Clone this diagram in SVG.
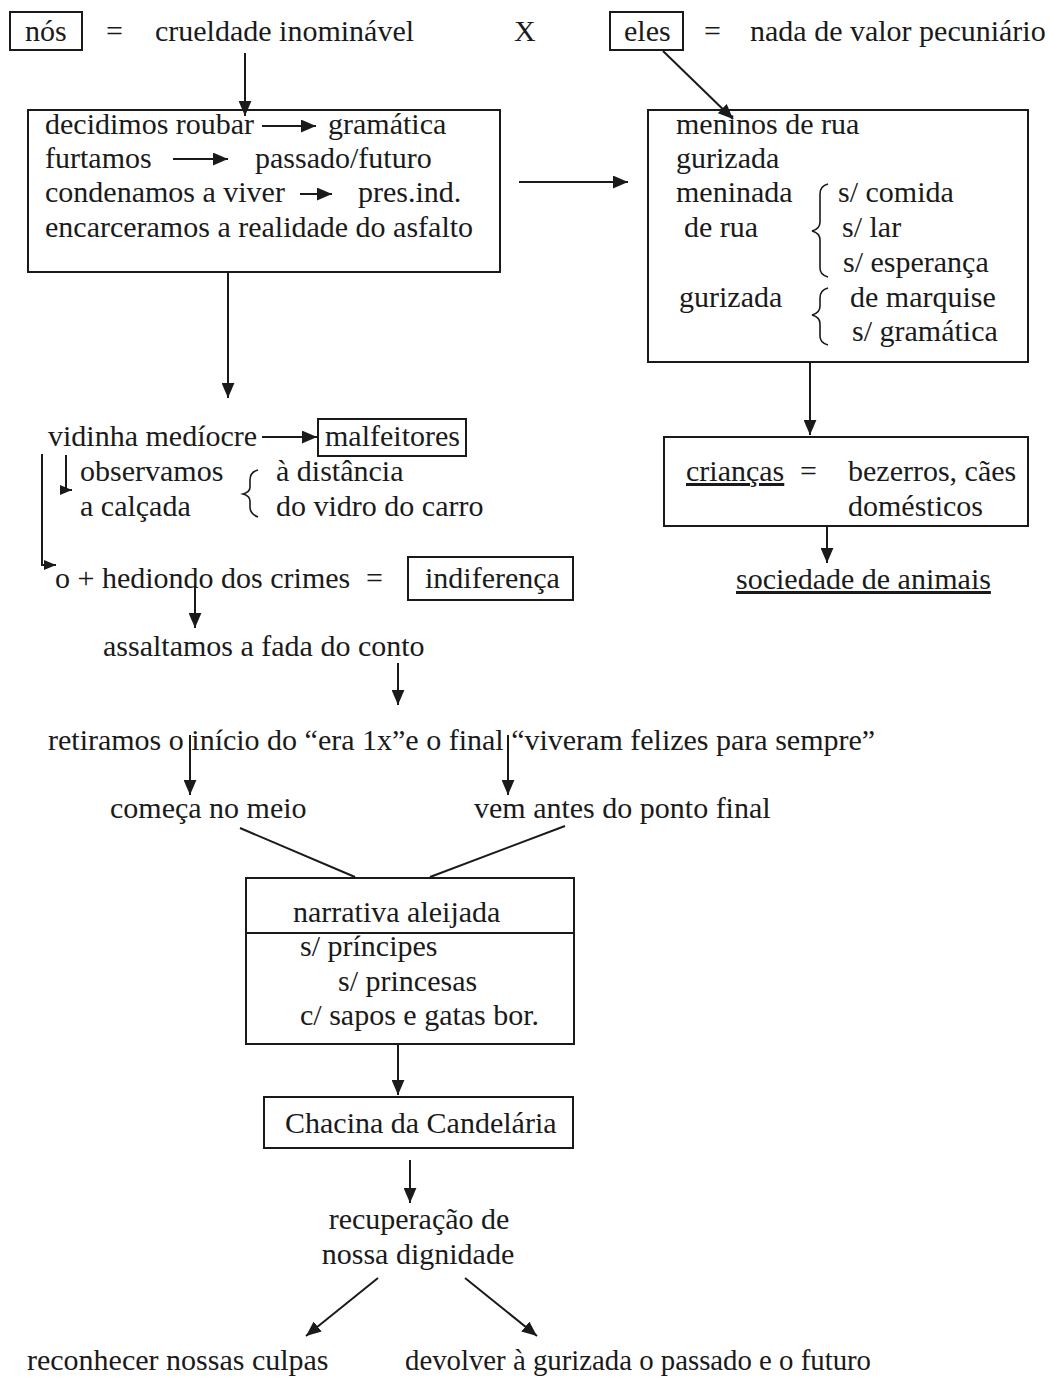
<svg xmlns="http://www.w3.org/2000/svg" width="1050" height="1379" viewBox="0 0 1050 1379">
<style>
text{font-family:"Liberation Serif","Times New Roman",serif;font-size:30px;fill:#1a1a1a}
.box{fill:none;stroke:#1a1a1a;stroke-width:2}
.ln{fill:none;stroke:#1a1a1a;stroke-width:2}
.br{fill:none;stroke:#1a1a1a;stroke-width:1.6}
.u{text-decoration:underline}
</style>
<defs>
<marker id="ah" viewBox="0 0 14 12" refX="14" refY="6" markerWidth="15" markerHeight="13" markerUnits="userSpaceOnUse" orient="auto"><path d="M0,0 L14,6 L0,12 z" fill="#1a1a1a"/></marker>
<marker id="ahs" viewBox="0 0 12 10" refX="12" refY="5" markerWidth="12" markerHeight="10" markerUnits="userSpaceOnUse" orient="auto"><path d="M0,0 L12,5 L0,10 z" fill="#1a1a1a"/></marker>
</defs>
<rect width="1050" height="1379" fill="#fff"/>

<g id="nos">
<rect class="box" x="10" y="12" width="72" height="38"/>
<text x="25" y="41">nós</text>
<text x="106" y="41">=</text>
<text x="155" y="41">crueldade inominável</text>
</g>
<g id="x"><text x="514" y="41">X</text></g>
<g id="eles">
<rect class="box" x="610" y="12" width="73" height="38"/>
<text x="624" y="41">eles</text>
<text x="704" y="41">=</text>
<text x="750" y="41">nada de valor pecuniário</text>
</g>

<g id="box-nos">
<rect class="box" x="28" y="110" width="472" height="162"/>
<text x="45" y="134">decidimos roubar</text>
<text x="328" y="134">gramática</text>
<text x="45" y="168">furtamos</text>
<text x="255" y="168">passado/futuro</text>
<text x="45" y="202">condenamos a viver</text>
<text x="358" y="202">pres.ind.</text>
<text x="45" y="237">encarceramos a realidade do asfalto</text>
</g>

<g id="box-eles">
<rect class="box" x="648" y="110" width="380" height="252"/>
<text x="676" y="134">meninos de rua</text>
<text x="676" y="168">gurizada</text>
<text x="676" y="202">meninada</text>
<text x="684" y="237">de rua</text>
<text x="838" y="202">s/ comida</text>
<text x="842" y="237">s/ lar</text>
<text x="843" y="272">s/ esperança</text>
<text x="679" y="307">gurizada</text>
<text x="850" y="307">de marquise</text>
<text x="852" y="341">s/ gramática</text>
<path class="br" d="M828,184 Q820,186 820,194 L820,222 Q820,229 812,231 Q820,233 820,240 L820,268 Q820,275 828,277"/>
<path class="br" d="M828,288 Q820,290 820,298 L820,306 Q820,313 812,315 Q820,317 820,324 L820,336 Q820,343 828,345"/>
</g>

<g id="criancas">
<rect class="box" x="664" y="437" width="364" height="89"/>
<text class="u" x="686" y="481">crianças</text>
<text x="800" y="481">=</text>
<text x="848" y="481">bezerros, cães</text>
<text x="848" y="516">domésticos</text>
</g>
<g id="sociedade"><text class="u" x="736" y="589">sociedade de animais</text></g>

<g id="vidinha">
<text x="48" y="446">vidinha medíocre</text>
<rect class="box" x="318" y="419" width="148" height="37"/>
<text x="325" y="446">malfeitores</text>
<text x="80" y="481">observamos</text>
<text x="80" y="516">a calçada</text>
<path class="br" d="M258,470 Q250,472 250,480 L250,487 Q250,492 243,494 Q250,496 250,501 L250,507 Q250,514 258,517"/>
<text x="276" y="481">à distância</text>
<text x="276" y="516">do vidro do carro</text>
</g>

<g id="hediondo">
<text x="55" y="588">o + hediondo dos crimes</text>
<text x="366" y="588">=</text>
<rect class="box" x="408" y="557" width="165" height="43"/>
<text x="425" y="588">indiferença</text>
</g>

<g id="assaltamos"><text x="103" y="656">assaltamos a fada do conto</text></g>
<g id="retiramos"><text x="48" y="750">retiramos o início do “era 1x”e o final “viveram felizes para sempre”</text></g>
<g id="comeca"><text x="110" y="818">começa no meio</text></g>
<g id="vem"><text x="474" y="818">vem antes do ponto final</text></g>

<g id="narrativa">
<rect class="box" x="246" y="878" width="328" height="166"/>
<line class="ln" x1="246" y1="933" x2="574" y2="933"/>
<text x="293" y="922">narrativa aleijada</text>
<text x="300" y="956">s/ príncipes</text>
<text x="338" y="991">s/ princesas</text>
<text x="300" y="1025">c/ sapos e gatas bor.</text>
</g>

<g id="chacina">
<rect class="box" x="264" y="1097" width="309" height="51"/>
<text x="285" y="1133">Chacina da Candelária</text>
</g>

<g id="recuperacao">
<text x="419" y="1229" text-anchor="middle">recuperação de</text>
<text x="418" y="1264" text-anchor="middle">nossa dignidade</text>
</g>
<g id="reconhecer"><text x="27" y="1370">reconhecer nossas culpas</text></g>
<g id="devolver"><text x="405" y="1370" textLength="466" lengthAdjust="spacingAndGlyphs">devolver à gurizada o passado e o futuro</text></g>

<g id="connectors">
<line class="ln" x1="245" y1="53" x2="245" y2="116" marker-end="url(#ah)"/>
<line class="ln" x1="663" y1="51" x2="733" y2="119" marker-end="url(#ah)"/>
<line class="ln" x1="262" y1="126" x2="316" y2="126" marker-end="url(#ah)"/>
<line class="ln" x1="173" y1="159" x2="228" y2="159" marker-end="url(#ah)"/>
<line class="ln" x1="300" y1="194" x2="332" y2="194" marker-end="url(#ah)"/>
<line class="ln" x1="519" y1="182" x2="628" y2="182" marker-end="url(#ah)"/>
<line class="ln" x1="228" y1="273" x2="228" y2="398" marker-end="url(#ah)"/>
<line class="ln" x1="810" y1="363" x2="810" y2="435" marker-end="url(#ah)"/>
<line class="ln" x1="827" y1="527" x2="827" y2="563" marker-end="url(#ah)"/>
<line class="ln" x1="262" y1="437" x2="317" y2="437" marker-end="url(#ah)"/>
<polyline class="ln" points="66,455 66,490 72,490" marker-end="url(#ahs)"/>
<polyline class="ln" points="42,454 42,565 56,565" marker-end="url(#ahs)"/>
<line class="ln" x1="195" y1="585" x2="195" y2="628" marker-end="url(#ah)"/>
<line class="ln" x1="398" y1="663" x2="398" y2="705" marker-end="url(#ah)"/>
<line class="ln" x1="190" y1="735" x2="190" y2="795" marker-end="url(#ah)"/>
<line class="ln" x1="508" y1="735" x2="508" y2="795" marker-end="url(#ah)"/>
<line class="ln" x1="240" y1="828" x2="355" y2="877"/>
<line class="ln" x1="565" y1="826" x2="430" y2="877"/>
<line class="ln" x1="398" y1="1045" x2="398" y2="1095" marker-end="url(#ah)"/>
<line class="ln" x1="410" y1="1160" x2="410" y2="1203" marker-end="url(#ah)"/>
<line class="ln" x1="378" y1="1278" x2="306" y2="1336" marker-end="url(#ah)"/>
<line class="ln" x1="465" y1="1278" x2="537" y2="1336" marker-end="url(#ah)"/>
</g>
</svg>
